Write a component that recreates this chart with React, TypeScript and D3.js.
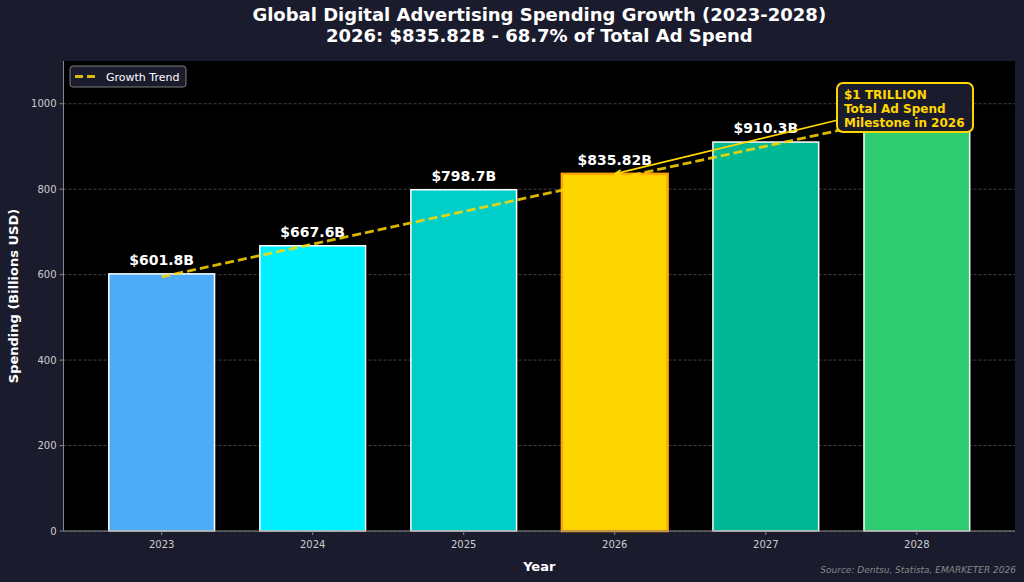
import React from "react";
import * as d3 from "d3";

const years = ["2023", "2024", "2025", "2026", "2027", "2028"];
const spending = [601.8, 667.6, 798.7, 835.82, 910.3, 980];
const barColors = ["#4dabf7", "#00f0ff", "#00cec9", "#ffd700", "#00b894", "#2ecc71"];
const yTicks = [0, 200, 400, 600, 800, 1000];
const trendYears = ["2023", "2028"];
const trendValues = [595, 977];
const annotationLines = ["$1 TRILLION", "Total Ad Spend", "Milestone in 2026"];
const highlightYear = "2026";

const W = 1024;
const H = 582;
const M = { left: 63.5, right: 1015, top: 61, bottom: 531 };
const FONT = "'DejaVu Sans', sans-serif";

export default function App() {
  const x = d3
    .scaleBand<string>()
    .domain(years)
    .range([M.left, M.right])
    .paddingInner(0.3)
    .paddingOuter(0.3);
  const y = d3.scaleLinear().domain([0, 1100]).range([M.bottom, M.top]);
  const cx = (yr: string) => (x(yr) as number) + x.bandwidth() / 2;

  const trendLine = d3
    .line<number>()
    .x((_, i) => cx(trendYears[i]))
    .y((v) => y(v))(trendValues) as string;

  const hiIdx = years.indexOf(highlightYear);
  const ax0 = cx(highlightYear);
  const ay0 = y(spending[hiIdx]);
  const box = { x: 837, y: 83, w: 136, h: 49 };
  const ax1 = box.x + 1;
  const ay1 = box.y + 37;
  const ang = Math.atan2(ay0 - ay1, ax0 - ax1);
  const ah = 7;
  const arrowHead = `M${ax0},${ay0} L${ax0 - ah * Math.cos(ang - 0.35)},${ay0 - ah * Math.sin(ang - 0.35)} M${ax0},${ay0} L${ax0 - ah * Math.cos(ang + 0.35)},${ay0 - ah * Math.sin(ang + 0.35)}`;

  return (
    <svg width={W} height={H} style={{ position: "absolute", left: 0, top: 0, display: "block" }} fontFamily={FONT}>
      <rect x={0} y={0} width={W} height={H} fill="#1b1b2e" />
      <rect x={M.left} y={M.top} width={M.right - M.left} height={M.bottom - M.top} fill="#000000" />

      {/* grid */}
      {yTicks.map((t) => (
        <line
          key={"g" + t}
          x1={M.left}
          x2={M.right}
          y1={y(t)}
          y2={y(t)}
          stroke="#666"
          strokeOpacity={0.8}
          strokeWidth={0.8}
          strokeDasharray="3,2"
        />
      ))}

      {/* bars */}
      {years.map((yr, i) => {
        const hi = yr === highlightYear;
        return (
          <rect
            key={yr}
            x={x(yr)}
            y={y(spending[i])}
            width={x.bandwidth()}
            height={y(0) - y(spending[i])}
            fill={barColors[i]}
            stroke={hi ? "#ffa500" : "#ffffff"}
            strokeWidth={hi ? 2.5 : 1.5}
          />
        );
      })}

      {/* value labels */}
      {years.map((yr, i) => (
        <text
          key={"v" + yr}
          x={cx(yr)}
          y={y(spending[i]) - 9}
          textAnchor="middle"
          fill="#ffffff"
          fontSize={14}
          fontWeight="bold"
        >
          {`$${spending[i]}B`}
        </text>
      ))}

      {/* trend */}
      <path d={trendLine} fill="none" stroke="#ffd700" strokeOpacity={0.85} strokeWidth={2.8} strokeDasharray="9,4" />

      {/* spines */}
      <line x1={M.left} x2={M.left} y1={M.top} y2={M.bottom} stroke="#888" strokeWidth={1} />
      <line x1={M.left} x2={M.right} y1={M.bottom} y2={M.bottom} stroke="#888" strokeWidth={1} />

      {/* y ticks */}
      {yTicks.map((t) => (
        <g key={"yt" + t}>
          <line x1={M.left - 4} x2={M.left} y1={y(t)} y2={y(t)} stroke="#888" />
          <text x={M.left - 7} y={y(t) + 3.5} textAnchor="end" fill="#cccccc" fontSize={10}>
            {t}
          </text>
        </g>
      ))}

      {/* x ticks */}
      {years.map((yr) => (
        <g key={"xt" + yr}>
          <line x1={cx(yr)} x2={cx(yr)} y1={M.bottom} y2={M.bottom + 4} stroke="#888" />
          <text x={cx(yr)} y={M.bottom + 17} textAnchor="middle" fill="#cccccc" fontSize={10}>
            {yr}
          </text>
        </g>
      ))}

      {/* axis labels */}
      <text x={(M.left + M.right) / 2} y={571} textAnchor="middle" fill="#ffffff" fontSize={13} fontWeight="bold">
        Year
      </text>
      <text
        transform={`translate(18,${(M.top + M.bottom) / 2}) rotate(-90)`}
        textAnchor="middle"
        fill="#ffffff"
        fontSize={13}
        fontWeight="bold"
      >
        Spending (Billions USD)
      </text>

      {/* title */}
      <text x={(M.left + M.right) / 2} y={21} textAnchor="middle" fill="#ffffff" fontSize={18} fontWeight="bold">
        Global Digital Advertising Spending Growth (2023-2028)
      </text>
      <text x={(M.left + M.right) / 2} y={42} textAnchor="middle" fill="#ffffff" fontSize={18} fontWeight="bold">
        2026: $835.82B - 68.7% of Total Ad Spend
      </text>

      {/* legend */}
      <rect x={70} y={66} width={116} height={21} rx={3} fill="#1b1b2e" stroke="#999" strokeWidth={0.8} />
      <line x1={75} x2={99} y1={76.5} y2={76.5} stroke="#ffd700" strokeOpacity={0.85} strokeWidth={2.8} strokeDasharray="8,4" />
      <text x={106} y={80.5} fill="#ffffff" fontSize={11}>
        Growth Trend
      </text>

      {/* annotation */}
      <line x1={ax1} y1={ay1} x2={ax0} y2={ay0} stroke="#ffd700" strokeWidth={1.8} />
      <path d={arrowHead} fill="none" stroke="#ffd700" strokeWidth={1.8} />
      <rect x={box.x} y={box.y} width={box.w} height={box.h} rx={6} fill="#1b1b2e" stroke="#ffd700" strokeWidth={2} />
      {annotationLines.map((l, i) => (
        <text key={"a" + i} x={box.x + 7} y={box.y + 16 + i * 14} fill="#ffd700" fontSize={12} fontWeight="bold">
          {l}
        </text>
      ))}

      {/* source */}
      <text x={1016} y={573} textAnchor="end" fill="#888" fontSize={9} fontStyle="italic">
        Source: Dentsu, Statista, EMARKETER 2026
      </text>
    </svg>
  );
}
